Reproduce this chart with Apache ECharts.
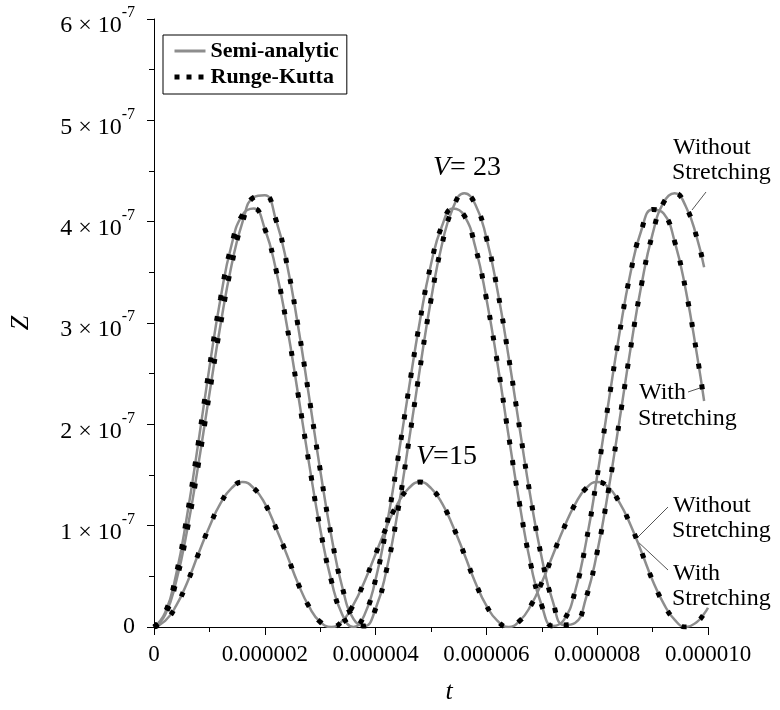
<!DOCTYPE html>
<html><head><meta charset="utf-8">
<script src="https://cdn.jsdelivr.net/npm/echarts@6/dist/echarts.min.js"></script>
<style>html,body{margin:0;padding:0;background:#fff}#c{width:780px;height:710px}</style>
</head><body><div id="c"></div><script>
// time in microseconds (axis labels show seconds), Z in units of 1e-7
const tValues = [0,0.2,0.4,0.6,0.8,1.0,1.2,1.4,1.6,1.8,2.0,2.2,2.4,2.6,2.8,3.0,3.2,3.4,3.6,3.8,4.0,4.2,4.4,4.6,4.8,5.0,5.2,5.4,5.6,5.8,6.0,6.2,6.4,6.6,6.8,7.0,7.2,7.4,7.6,7.8,8.0,8.2,8.4,8.6,8.8,9.0,9.2,9.4,9.6,9.8,9.93,10.0];
// V = 23, without stretching
const zV23Without = [0,0.12,0.45,0.96,1.60,2.30,2.98,3.57,4.00,4.24,4.26,4.02,3.58,2.97,2.27,1.55,0.90,0.39,0.08,0.01,0.18,0.57,1.14,1.83,2.55,3.23,3.78,4.14,4.28,4.17,3.84,3.32,2.67,1.96,1.27,0.68,0.25,0.02,0.04,0.29,0.74,1.34,2.03,2.74,3.38,3.88,4.19,4.28,4.15,3.84,3.55,null];
// V = 23, with stretching
const zV23With = [0,0.14,0.52,1.11,1.82,2.56,3.24,3.77,4.07,4.13,3.93,3.53,2.97,2.30,1.61,0.97,0.46,0.12,0.00,0.12,0.47,1.00,1.65,2.35,3.02,3.58,3.96,4.13,4.06,3.75,3.24,2.60,1.89,1.21,0.62,0.21,0.01,0.07,0.35,0.84,1.49,2.20,2.89,3.49,3.92,4.12,4.08,3.80,3.32,2.69,2.23,null];
// V = 15 (with and without stretching coincide)
const zV15 = [0,0.06,0.21,0.44,0.72,0.99,1.22,1.37,1.43,1.37,1.22,0.98,0.71,0.43,0.20,0.05,0,0.06,0.22,0.45,0.72,0.99,1.22,1.37,1.43,1.37,1.22,0.99,0.72,0.44,0.21,0.06,0,0.06,0.21,0.44,0.71,0.98,1.21,1.37,1.43,1.38,1.23,1.01,0.74,0.46,0.23,0.07,0,0.05,0.13,0.19];

const xTickLabels = ['0','0.000002','0.000004','0.000006','0.000008','0.000010'];
const yTickMantissa = ['0','1','2','3','4','5','6'];
const yTickExponent = '-7';
const legendNames = ['Semi-analytic','Runge-Kutta'];

const FONT = 'Liberation Serif';
const GRAY = '#8d8d8d';
const DOTS = [5,16];
const pairs = arr => tValues.map((t,i)=>[t, arr[i]]);
const curves = [zV23Without, zV23With, zV15];

const series = [];
curves.forEach(c => series.push({
  name: legendNames[0], type:'line', data: pairs(c), smooth: true, symbol:'none', z: 2,
  lineStyle:{color:GRAY, width:2.5}, itemStyle:{color:GRAY}
}));
curves.forEach(c => series.push({
  name: legendNames[1], type:'line', data: pairs(c), smooth: true, symbol:'none', z: 3,
  lineStyle:{color:'#000', width:5, type:DOTS, cap:'butt'}, itemStyle:{color:'#000'}
}));

const chart = echarts.init(document.getElementById('c'), null, {renderer:'canvas'});
const txt = (text, x, y, size) => ({type:'text', style:{text, x, y, font: size+'px "'+FONT+'"', fill:'#000', textAlign:'left', textVerticalAlign:'middle'}});
const ln = (x1,y1,x2,y2) => ({type:'line', shape:{x1,y1,x2,y2}, style:{stroke:'#555', lineWidth:1}});
const vLabel = (text, x, y) => ({type:'text', style:{rich:{i:{fontFamily:FONT, fontStyle:'italic', fontSize:28, fill:'#000'}, n:{fontFamily:FONT, fontSize:28, fill:'#000'}}, text, x, y, textVerticalAlign:'middle'}});

chart.setOption({
  animation:false,
  backgroundColor:'#fff',
  grid:{left:149, right:72, top:19, bottom:74},
  legend:{
    data: [
      {name:legendNames[0], itemStyle:{opacity:0}, lineStyle:{color:GRAY, width:3, opacity:1}},
      {name:legendNames[1], itemStyle:{opacity:0}, lineStyle:{color:'#000', width:5, type:[5,7], cap:'butt', opacity:1}}
    ],
    orient:'vertical', left:163, top:35,
    borderColor:'#000', borderWidth:1, borderRadius:0, padding:[5,8,6,9],
    itemWidth:31, itemHeight:22, itemGap:4,
    textStyle:{fontFamily:FONT, fontWeight:'bold', fontSize:22, color:'#000'}
  },
  xAxis:{
    type:'value', min:0, max:10, interval:2,
    name:'t', nameLocation:'middle', nameGap:52,
    nameTextStyle:{fontFamily:FONT, fontStyle:'italic', fontSize:26, color:'#000', padding:[0,0,0,36]},
    axisLine:{lineStyle:{color:'#000', width:1}},
    axisTick:{show:true, inside:false, length:8, lineStyle:{color:'#000'}},
    minorTick:{show:true, splitNumber:2, length:5, lineStyle:{color:'#000'}},
    splitLine:{show:false},
    axisLabel:{margin:16, fontFamily:FONT, fontSize:23, color:'#000', formatter:v=>xTickLabels[Math.round(v/2)]}
  },
  yAxis:{
    type:'value', min:0, max:6, interval:1,
    name:'Z', nameLocation:'middle', nameGap:120, nameRotate:90,
    nameTextStyle:{fontFamily:FONT, fontStyle:'italic', fontSize:26, color:'#000'},
    axisLine:{show:true, lineStyle:{color:'#000', width:1}},
    axisTick:{show:true, length:7, lineStyle:{color:'#000'}},
    minorTick:{show:true, splitNumber:2, length:5, lineStyle:{color:'#000'}},
    splitLine:{show:false},
    axisLabel:{margin:19, color:'#000',
      formatter:v=> v===0 ? '{z|0}' : '{b|'+yTickMantissa[v]+' × 10}{s|'+yTickExponent+'}',
      rich:{
        z:{fontFamily:FONT, fontSize:24, color:'#000'},
        b:{fontFamily:FONT, fontSize:24, color:'#000', padding:[14,0,0,0]},
        s:{fontFamily:FONT, fontSize:16, color:'#000', padding:[0,0,12,0]}
      }}
  },
  series,
  graphic:[
    vLabel('{i|V}{n|= 23}', 433, 168),
    vLabel('{i|V}{n|=15}', 416, 457),
    txt('Without', 673, 148, 24), txt('Stretching', 672, 173, 24), ln(706,192,692,210),
    txt('With', 639, 393, 24), ln(688,392,700,388), txt('Stretching', 638, 419, 24),
    txt('Without', 673, 506, 24), txt('Stretching', 672, 531, 24),
    txt('With', 673, 574, 24), txt('Stretching', 672, 599, 24),
    ln(668,507,636,539), ln(636,540,668,570)
  ]
});
</script></body></html>
